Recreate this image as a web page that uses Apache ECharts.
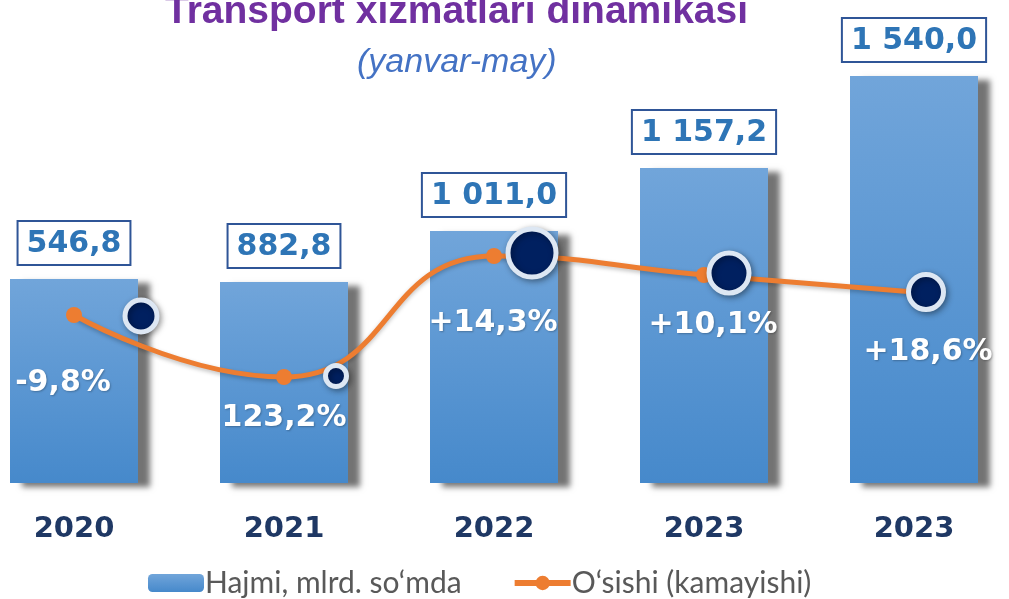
<!DOCTYPE html>
<html>
<head>
<meta charset="utf-8">
<script src="https://cdn.jsdelivr.net/npm/echarts@6/dist/echarts.min.js"></script>
<style>
  html, body { margin: 0; padding: 0; background: #fff; overflow: hidden; }
  body { position: relative; width: 1009px; height: 599px; }
  /* the source plot runs past both page edges, so the canvas is wider than the page */
  #chart { position: absolute; left: -31px; top: 0; width: 1050px; height: 599px; }
</style>
</head>
<body>
<div id="chart"></div>
<script>
// data
const years = ['2020', '2021', '2022', '2023', '2023'];
const volume = [546.8, 882.8, 1011.0, 1157.2, 1540.0];      // bar labels, mlrd. so'm
const barLevel = [204, 201, 252, 315, 407];                 // bar heights as drawn (not to scale in the source)
const growthLevel = [168, 106, 227, 208, 191];              // orange curve height
const dotLevel = [167, 107, 230, 210, 191];                 // navy marker height
const pctLabels = ['-9,8%', '123,2%', '+14,3%', '+10,1%', '+18,6%'];
const pctLevel = [100, 65, 160, 158, 131];

const barName = 'Hajmi, mlrd. so‘mda';
const lineName = 'O‘sishi (kamayishi)';

function fmt(v) {
    let s = v.toFixed(1).split('.');
    let int = s[0].replace(/\B(?=(\d{3})+(?!\d))/g, ' ');
    return int + ',' + s[1];
}

const shift = 31; // page x = canvas x - shift
const dotOffset = [67, 52, 38, 25, 12];
const dotSize = [32, 21, 48, 40, 35];
const pctShift = [-11, 0, -1, 9, 14];

let chart = echarts.init(document.getElementById('chart'));
let option = {
    animation: false,
    title: [
        {
            text: 'Transport xizmatlari dinamikasi',
            left: 160 + shift,
            top: -12,
            textStyle: {
                fontFamily: 'Liberation Sans',
                fontWeight: 'bold',
                fontSize: 39,
                color: '#7030a0'
            }
        },
        {
            text: '(yanvar-may)',
            left: 352 + shift,
            top: 41,
            textStyle: {
                fontFamily: 'Liberation Sans',
                fontStyle: 'italic',
                fontWeight: 'normal',
                fontSize: 34,
                color: '#4472c4'
            }
        }
    ],
    legend: {
        data: [
            { name: barName },
            { name: lineName, lineStyle: { width: 6 } }
        ],
        left: 143 + shift,
        top: 563,
        itemWidth: 56,
        itemHeight: 18,
        itemGap: 50,
        textStyle: {
            fontFamily: 'Lato',
            fontSize: 30,
            color: '#595959',
            padding: [0, 0, 0, -4]
        }
    },
    grid: {
        left: 0,
        right: 0,
        top: 76,
        bottom: 116,
        containLabel: false
    },
    xAxis: {
        type: 'category',
        data: years,
        axisLine: { show: false },
        axisTick: { show: false },
        axisLabel: {
            margin: 32,
            fontFamily: 'DejaVu Sans',
            fontWeight: 'bold',
            fontSize: 29,
            color: '#1f3864'
        }
    },
    yAxis: {
        type: 'value',
        min: 0,
        max: 407,
        show: false,
        splitLine: { show: false }
    },
    series: [
        {
            name: barName,
            type: 'bar',
            data: barLevel,
            barWidth: 128,
            itemStyle: {
                color: new echarts.graphic.LinearGradient(0, 0, 0, 1, [
                    { offset: 0, color: '#71a5da' },
                    { offset: 1, color: '#4689cb' }
                ]),
                shadowColor: 'rgba(0,0,0,0.55)',
                shadowBlur: 6,
                shadowOffsetX: 12,
                shadowOffsetY: 4
            },
            label: {
                show: true,
                position: 'top',
                distance: 15,
                formatter: p => fmt(volume[p.dataIndex]),
                fontFamily: 'DejaVu Sans',
                fontWeight: 'bold',
                fontSize: 30,
                color: '#2e75b6',
                backgroundColor: '#fff',
                borderColor: '#2f5597',
                borderWidth: 2,
                padding: [7, 8, 5, 8]
            },
            z: 1
        },
        {
            name: lineName,
            type: 'line',
            data: growthLevel,
            smooth: 0.5,
            symbol: 'circle',
            symbolSize: 16,
            lineStyle: {
                color: '#ed7d31',
                width: 5,
                shadowColor: 'rgba(0,0,0,0.25)',
                shadowBlur: 4,
                shadowOffsetY: 2
            },
            itemStyle: { color: '#ed7d31' },
            z: 3
        },
        {
            name: 'dots',
            type: 'scatter',
            data: dotLevel.map((v, i) => ({
                value: v,
                symbolSize: dotSize[i],
                symbolOffset: [dotOffset[i], 0]
            })),
            symbol: 'circle',
            itemStyle: {
                color: '#002060',
                opacity: 1,
                borderColor: '#dde7f3',
                borderWidth: 5,
                shadowColor: 'rgba(0,0,0,0.35)',
                shadowBlur: 6,
                shadowOffsetX: 2,
                shadowOffsetY: 2
            },
            z: 4
        },
        {
            name: 'pct',
            type: 'scatter',
            data: pctLevel.map((v, i) => ({
                value: v,
                label: { offset: [pctShift[i], 0] }
            })),
            symbolSize: 0,
            silent: true,
            itemStyle: { opacity: 1 },
            label: {
                show: true,
                position: 'inside',
                formatter: p => pctLabels[p.dataIndex],
                fontFamily: 'DejaVu Sans',
                fontWeight: 'bold',
                fontSize: 30,
                color: '#ffffff',
                opacity: 1,
                textShadowColor: 'rgba(0,0,0,0.25)',
                textShadowBlur: 2,
                textShadowOffsetX: 1,
                textShadowOffsetY: 1
            },
            z: 5
        }
    ]
};
chart.setOption(option);
</script>
</body>
</html>
